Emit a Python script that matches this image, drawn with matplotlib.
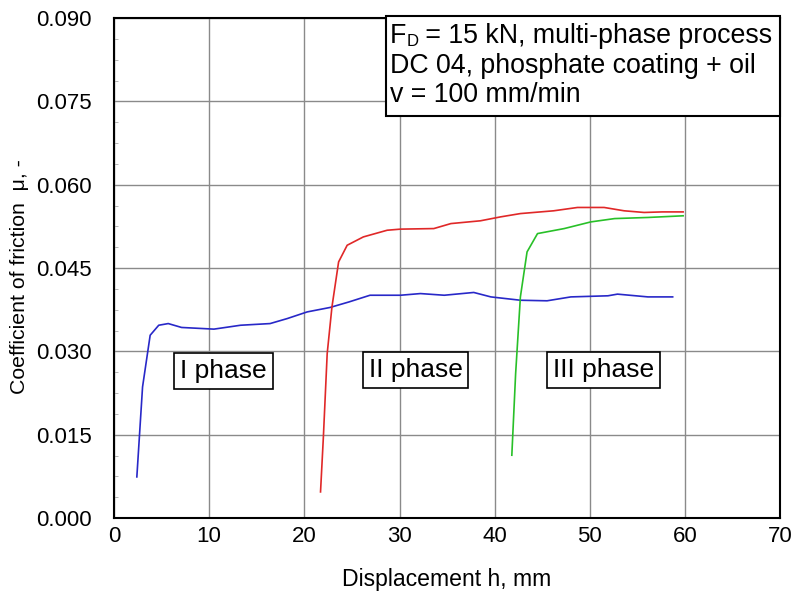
import matplotlib
matplotlib.use("Agg")
import matplotlib.pyplot as plt
from matplotlib.patches import Rectangle
from matplotlib.ticker import MultipleLocator

plt.rcParams['font.family'] = ['Liberation Sans', 'DejaVu Sans']

# Phase I (blue)
x1 = [2.4, 3.0, 3.8, 4.7, 5.7, 7.1, 10.5, 13.3, 16.4, 18.2, 20.3, 22.7, 24.7,
      26.9, 30.1, 32.2, 34.7, 37.8, 39.6, 42.7, 45.5, 48.0, 51.9, 52.9, 56.1, 58.7]
y1 = [0.0074, 0.0236, 0.0329, 0.0347, 0.0350, 0.0343, 0.0340, 0.0347, 0.0350,
      0.0359, 0.0371, 0.0379, 0.0389, 0.0401, 0.0401, 0.0404, 0.0401, 0.0406,
      0.0398, 0.0392, 0.0391, 0.0398, 0.0400, 0.0403, 0.0398, 0.0398]

# Phase II (red)
x2 = [21.7, 22.0, 22.4, 22.9, 23.6, 24.5, 26.2, 28.7, 30.1, 33.6, 35.4, 38.5,
      40.6, 42.7, 46.2, 48.7, 51.5, 53.6, 55.7, 57.6, 59.8]
y2 = [0.0047, 0.0146, 0.0296, 0.0380, 0.0461, 0.0491, 0.0506, 0.0518, 0.0520,
      0.0521, 0.0530, 0.0535, 0.0542, 0.0548, 0.0553, 0.0559, 0.0559, 0.0553,
      0.0550, 0.0551, 0.0551]

# Phase III (green)
x3 = [41.8, 42.2, 42.7, 43.4, 44.5, 47.3, 50.1, 52.6, 56.1, 59.8]
y3 = [0.0113, 0.0260, 0.0398, 0.0479, 0.0512, 0.0521, 0.0533, 0.0539, 0.0541, 0.0544]

phase_labels = ['I phase', 'II phase', 'III phase']
phase_x = [11.5, 31.7, 51.4]
phase_y = [0.0265, 0.0266, 0.0266]

fig = plt.figure(figsize=(7.95, 5.91), dpi=100)
ax = fig.add_axes([0.1434, 0.1235, 0.838, 0.846])

ax.plot(x1, y1, color='#2828c8', lw=1.2)
ax.plot(x2, y2, color='#e02828', lw=1.2)
ax.plot(x3, y3, color='#28c028', lw=1.2)

ax.set_xlim(0, 70)
ax.set_ylim(0, 0.09)
ax.xaxis.set_major_locator(MultipleLocator(10))
ax.yaxis.set_major_locator(MultipleLocator(0.015))
ax.yaxis.set_minor_locator(MultipleLocator(0.00375))
ax.yaxis.set_major_formatter(lambda v, pos: f'{v:.3f}')

ax.grid(True, which='major', color='#8a8a8a', lw=1)
ax.tick_params(which='major', length=0, labelsize=16)
ax.tick_params(axis='y', which='major', pad=16)
ax.tick_params(axis='x', which='major', pad=6)
ax.tick_params(axis='y', which='minor', direction='in', length=3, color='#aaaaaa')
ax.tick_params(axis='x', which='minor', length=0)
for s in ax.spines.values():
    s.set_linewidth(1.5)

ax.set_xlabel('Displacement h, mm', fontsize=16.6, labelpad=15)
ax.set_ylabel('Coefficient of friction  μ, -', fontsize=15.3)
ax.yaxis.set_label_coords(-0.127, 0.482)

for lab, px, py in zip(phase_labels, phase_x, phase_y):
    ax.text(px, py, lab, fontsize=19, ha='center', va='center', zorder=5,
            bbox=dict(boxstyle='square,pad=0.22', fc='white', ec='black', lw=1.2))

# info box in the top right corner
ax.add_patch(Rectangle((0.408, 0.804), 0.592, 0.2, transform=ax.transAxes,
                       fc='white', ec='black', lw=1.5, clip_on=False, zorder=6))
tx = 0.4144
t_f = ax.text(tx, 0.950, 'F', transform=ax.transAxes, fontsize=19.3,
              ha='left', va='baseline', zorder=7)
t_d = ax.annotate('D', xy=(1, 0), xycoords=t_f, fontsize=12,
                  ha='left', va='bottom', zorder=7)
ax.annotate(' = 15 kN, multi-phase process', xy=(1, 0), xycoords=(t_d, t_f),
            fontsize=19.3, ha='left', va='bottom', zorder=7)
ax.text(tx, 0.891, 'DC 04, phosphate coating + oil', transform=ax.transAxes,
        fontsize=19.3, ha='left', va='baseline', zorder=7)
ax.text(tx, 0.832, 'v = 100 mm/min', transform=ax.transAxes,
        fontsize=19.3, ha='left', va='baseline', zorder=7)

fig.savefig('out.png', dpi=100)
